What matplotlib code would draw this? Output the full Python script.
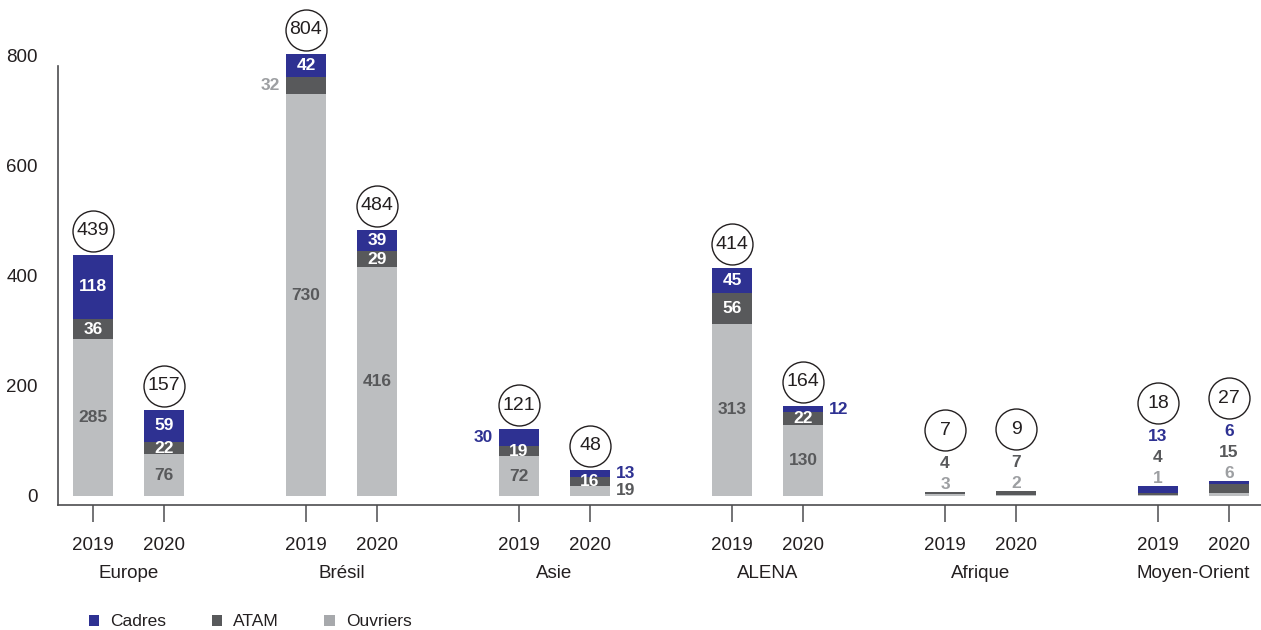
import matplotlib
matplotlib.use("Agg")
import matplotlib.pyplot as plt
from matplotlib.patches import Patch
from matplotlib.transforms import offset_copy
import numpy as np

plt.rcParams["font.family"] = ["Liberation Sans Narrow", "Liberation Sans", "DejaVu Sans"]

# ---- data -------------------------------------------------------------
groups = ["Europe", "Brésil", "Asie", "ALENA", "Afrique", "Moyen-Orient"]
years = ["2019", "2020"]
ouvriers = [285, 76, 730, 416, 72, 19, 313, 130, 3, 2, 1, 6]
atam = [36, 22, 32, 29, 19, 16, 56, 22, 4, 7, 4, 15]
cadres = [118, 59, 42, 39, 30, 13, 45, 12, 0, 0, 13, 6]
series_names = ["Cadres", "ATAM", "Ouvriers"]

# ---- style ------------------------------------------------------------
C_CAD = "#2e3192"
C_ATAM = "#58595b"
C_OUV = "#bcbec0"
C_OUV_LEG = "#a7a9ac"
C_TXT = "#231f20"
C_LIGHT = "#9d9fa2"
PX = 0.72  # points per pixel at 100 dpi

fig = plt.figure(figsize=(12.61, 6.30), dpi=100)
ax = fig.add_axes([58 / 1261, 125 / 630, 1203 / 1261, 495 / 630])

# bar positions: two bars per region, a one-slot gap between regions
pos = []
for g in range(len(groups)):
    pos += [3 * g, 3 * g + 1]
pos = np.array(pos, dtype=float)
width = 0.563

ouv = np.array(ouvriers)
at = np.array(atam)
cad = np.array(cadres)
totals = ouv + at + cad

ax.bar(pos, ouv, width, color=C_OUV, zorder=2)
ax.bar(pos, at, width, bottom=ouv, color=C_ATAM, zorder=2)
ax.bar(pos, cad, width, bottom=ouv + at, color=C_CAD, zorder=2)

# axis ranges (0.55 px per unit)
ymin = -9 / 0.55
ymax = (496 - 10) / 0.55
ax.set_ylim(ymin, ymax)
ax.set_xlim(-35 / 71, 16 + 32 / 71)

# ---- segment labels ---------------------------------------------------
bottoms = {"Ouvriers": np.zeros(len(pos)), "ATAM": ouv.astype(float),
           "Cadres": (ouv + at).astype(float)}
values = {"Ouvriers": ouv, "ATAM": at, "Cadres": cad}
inside_color = {"Ouvriers": C_ATAM, "ATAM": "white", "Cadres": "white"}

# placements outside the bar: (bar index, series) -> (side, colour)
side_labels = {
    (2, "ATAM"): ("left", C_LIGHT),
    (4, "Cadres"): ("left", C_CAD),
    (5, "Cadres"): ("right", C_CAD),
    (5, "Ouvriers"): ("right", C_ATAM),
    (7, "Cadres"): ("right", C_CAD),
}
# small bars: values listed above the bar, bottom to top
stacked_above = {8: ["Ouvriers", "ATAM"], 9: ["Ouvriers", "ATAM"],
                 10: ["Ouvriers", "ATAM", "Cadres"],
                 11: ["Ouvriers", "ATAM", "Cadres"]}
above_color = {"Ouvriers": C_LIGHT, "ATAM": C_ATAM, "Cadres": C_CAD}

lab_fs = 12.5
for i, x in enumerate(pos):
    top = totals[i]
    if i in stacked_above:
        rows = stacked_above[i]
        for r, s in enumerate(rows):
            ax.annotate(str(values[s][i]), xy=(x, top),
                        xytext=(0, (8 + 21 * r) * PX), textcoords="offset points",
                        ha="center", va="center", fontsize=lab_fs,
                        fontweight="bold", color=above_color[s])
        circ_dy = 8 + 21 * (len(rows) - 1) + 33
    else:
        for s in series_names:
            v = values[s][i]
            yc = bottoms[s][i] + v / 2
            if (i, s) in side_labels:
                side, col = side_labels[(i, s)]
                dx = -(width / 2) - 6 / 71 if side == "left" else (width / 2) + 6 / 71
                ax.text(x + dx, yc, str(v), ha="right" if side == "left" else "left",
                        va="center", fontsize=lab_fs, fontweight="bold", color=col)
            else:
                ax.text(x, yc, str(v), ha="center", va="center", fontsize=lab_fs,
                        fontweight="bold", color=inside_color[s], zorder=3)
        circ_dy = 24
    # circled total
    tr = offset_copy(ax.transData, fig=fig, x=0, y=circ_dy, units="dots")
    ax.plot([x], [top], marker="o", ms=29.5, mfc="white", mec=C_TXT, mew=1.0,
            transform=tr, clip_on=False, zorder=4)
    ax.text(x, top, str(top), transform=tr, ha="center", va="center",
            fontsize=14, color=C_TXT, zorder=5)

# ---- axes styling -----------------------------------------------------
for s in ["top", "right"]:
    ax.spines[s].set_visible(False)
ax.spines["left"].set_bounds(ymin, (496 - 66) / 0.55)
for s in ["left", "bottom"]:
    ax.spines[s].set_color("#4d4d4f")
    ax.spines[s].set_linewidth(1.2)

ax.set_yticks([0, 200, 400, 600, 800])
ax.tick_params(axis="y", length=0, pad=14.5, labelsize=13.5, labelcolor=C_TXT)
ax.set_xticks(pos)
ax.set_xticklabels(years * len(groups))
ax.tick_params(axis="x", length=12, width=1.1, color="#4d4d4f", pad=11,
               labelsize=13.5, labelcolor=C_TXT)

for g, name in enumerate(groups):
    ax.annotate(name, xy=(3 * g + 0.5, 0), xycoords=("data", "axes fraction"),
                xytext=(0, -68 * PX), textcoords="offset points",
                ha="center", va="center", fontsize=13.5, color=C_TXT)

# ---- legend -----------------------------------------------------------
handles = [Patch(facecolor=C_CAD), Patch(facecolor=C_ATAM), Patch(facecolor=C_OUV_LEG)]
fig.legend(handles, series_names, loc="center left",
           bbox_to_anchor=(80 / 1261, 1 - 622 / 630), ncol=3, frameon=False,
           fontsize=12.5, handlelength=0.6, handleheight=0.6,
           handletextpad=0.65, columnspacing=2.6, borderpad=0,
           labelcolor=C_TXT)

fig.savefig("out.png", dpi=100)
